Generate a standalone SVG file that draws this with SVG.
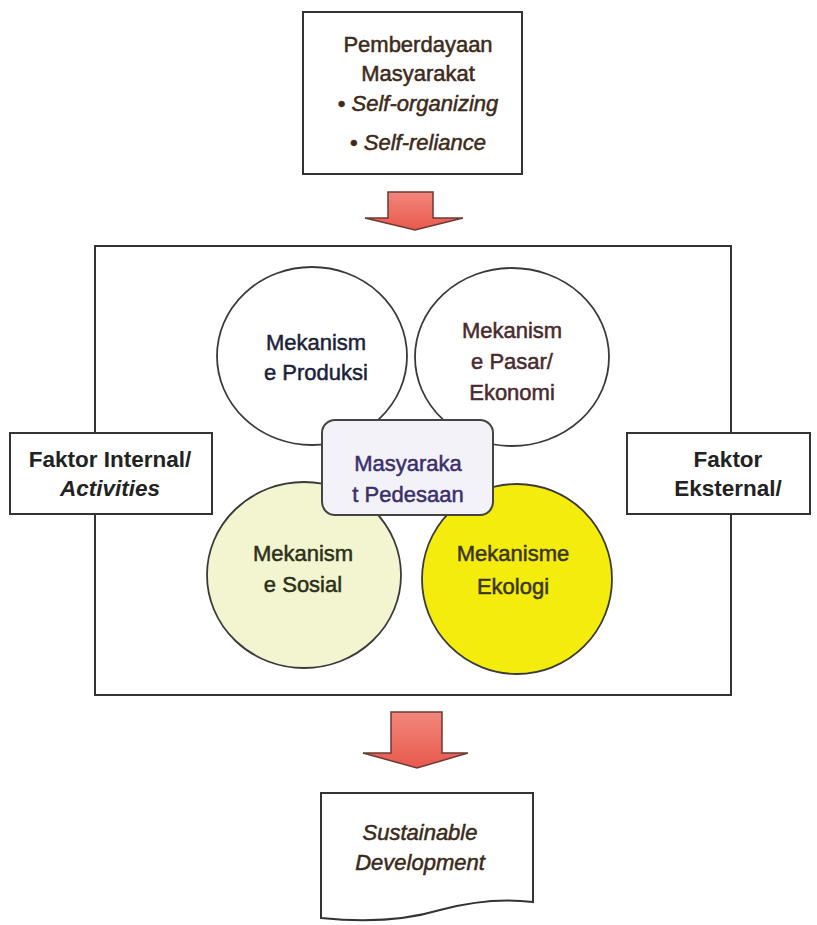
<svg xmlns="http://www.w3.org/2000/svg" width="817" height="925" viewBox="0 0 817 925">
<defs>
<style>
text{font-family:"Liberation Sans",Arial,sans-serif;font-size:22px;text-anchor:middle}
.box{fill:#fff;stroke:#333;stroke-width:2}
.circ{stroke:#3a3a3a;stroke-width:1.8}
.it{font-style:italic}
.med{stroke-width:0.5}
.bold{font-weight:bold;font-size:22.5px}
.arrow{stroke:#6b3a35;stroke-width:1.5}
</style>
<linearGradient id="ag" x1="0" y1="0" x2="0" y2="1">
<stop offset="0" stop-color="#f2867b"/>
<stop offset="1" stop-color="#e8594d"/>
</linearGradient>
</defs>
<rect width="817" height="925" fill="#fff"/>

<g id="frame"><rect x="95" y="246" width="636" height="449" fill="#fff" stroke="#333" stroke-width="2"/></g>

<g id="connectors">
<path class="arrow" fill="url(#ag)" d="M388,192 H433 V218 H463 L415,230 L365,218 H388 Z"/>
<path class="arrow" fill="url(#ag)" d="M391,712 H442 V753 H468 L417,768 L363,753 H391 Z"/>
</g>

<g id="top-box">
<rect class="box" x="303" y="12" width="219" height="162"/>
<text x="418" y="52" fill="#3d2a1a" stroke="#3d2a1a" class="med">Pemberdayaan</text>
<text x="418" y="81" fill="#3d2a1a" stroke="#3d2a1a" class="med">Masyarakat</text>
<text x="418" y="111" fill="#3d2a1a" stroke="#3d2a1a" class="med">• <tspan class="it">Self-organizing</tspan></text>
<text x="418" y="150" fill="#3d2a1a" stroke="#3d2a1a" class="med">• <tspan class="it">Self-reliance</tspan></text>
</g>

<g id="circle-produksi">
<ellipse class="circ" cx="312" cy="356" rx="95" ry="89" fill="#fff"/>
<text x="316" y="350" fill="#1d1f3a" stroke="#1d1f3a" class="med">Mekanism</text>
<text x="316" y="380" fill="#1d1f3a" stroke="#1d1f3a" class="med">e Produksi</text>
</g>
<g id="circle-pasar">
<ellipse class="circ" cx="512" cy="357" rx="97" ry="89" fill="#fff"/>
<text x="512" y="338" fill="#4a2a2e" stroke="#4a2a2e" class="med">Mekanism</text>
<text x="512" y="369" fill="#4a2a2e" stroke="#4a2a2e" class="med">e Pasar/</text>
<text x="512" y="400" fill="#4a2a2e" stroke="#4a2a2e" class="med">Ekonomi</text>
</g>
<g id="circle-sosial">
<ellipse class="circ" cx="304" cy="575" rx="97" ry="93" fill="#f2f5cf"/>
<text x="303" y="561" fill="#2c3018" stroke="#2c3018" class="med">Mekanism</text>
<text x="303" y="592" fill="#2c3018" stroke="#2c3018" class="med">e Sosial</text>
</g>
<g id="circle-ekologi">
<ellipse class="circ" cx="517" cy="579" rx="95" ry="95" fill="#f3ec0c"/>
<text x="513" y="561" fill="#3a3510" stroke="#3a3510" class="med">Mekanisme</text>
<text x="513" y="594" fill="#3a3510" stroke="#3a3510" class="med">Ekologi</text>
</g>

<g id="center">
<rect x="322" y="420" width="171" height="95" rx="13" ry="13" fill="#f3f2f8" stroke="#444" stroke-width="2"/>
<text x="408" y="471" fill="#3b2f6b" stroke="#3b2f6b" class="med">Masyaraka</text>
<text x="408" y="502" fill="#3b2f6b" stroke="#3b2f6b" class="med">t Pedesaan</text>
</g>

<g id="faktor-internal">
<rect class="box" x="10" y="433" width="202" height="81"/>
<text x="110" y="467" fill="#222" class="bold">Faktor Internal/</text>
<text x="110" y="496" fill="#222" class="bold it">Activities</text>
</g>
<g id="faktor-eksternal">
<rect class="box" x="627" y="433" width="183" height="81"/>
<text x="728" y="467" fill="#222" class="bold">Faktor</text>
<text x="728" y="496" fill="#222" class="bold">Eksternal/</text>
</g>

<g id="sustainable">
<path d="M321,793 H533 V902 C500,898 470,902 440,910 C400,922 360,922 321,918 Z" fill="#fff" stroke="#333" stroke-width="2"/>
<text x="420" y="840" fill="#3a2a1a" stroke="#3a2a1a" class="it med">Sustainable</text>
<text x="420" y="870" fill="#3a2a1a" stroke="#3a2a1a" class="it med">Development</text>
</g>
</svg>
